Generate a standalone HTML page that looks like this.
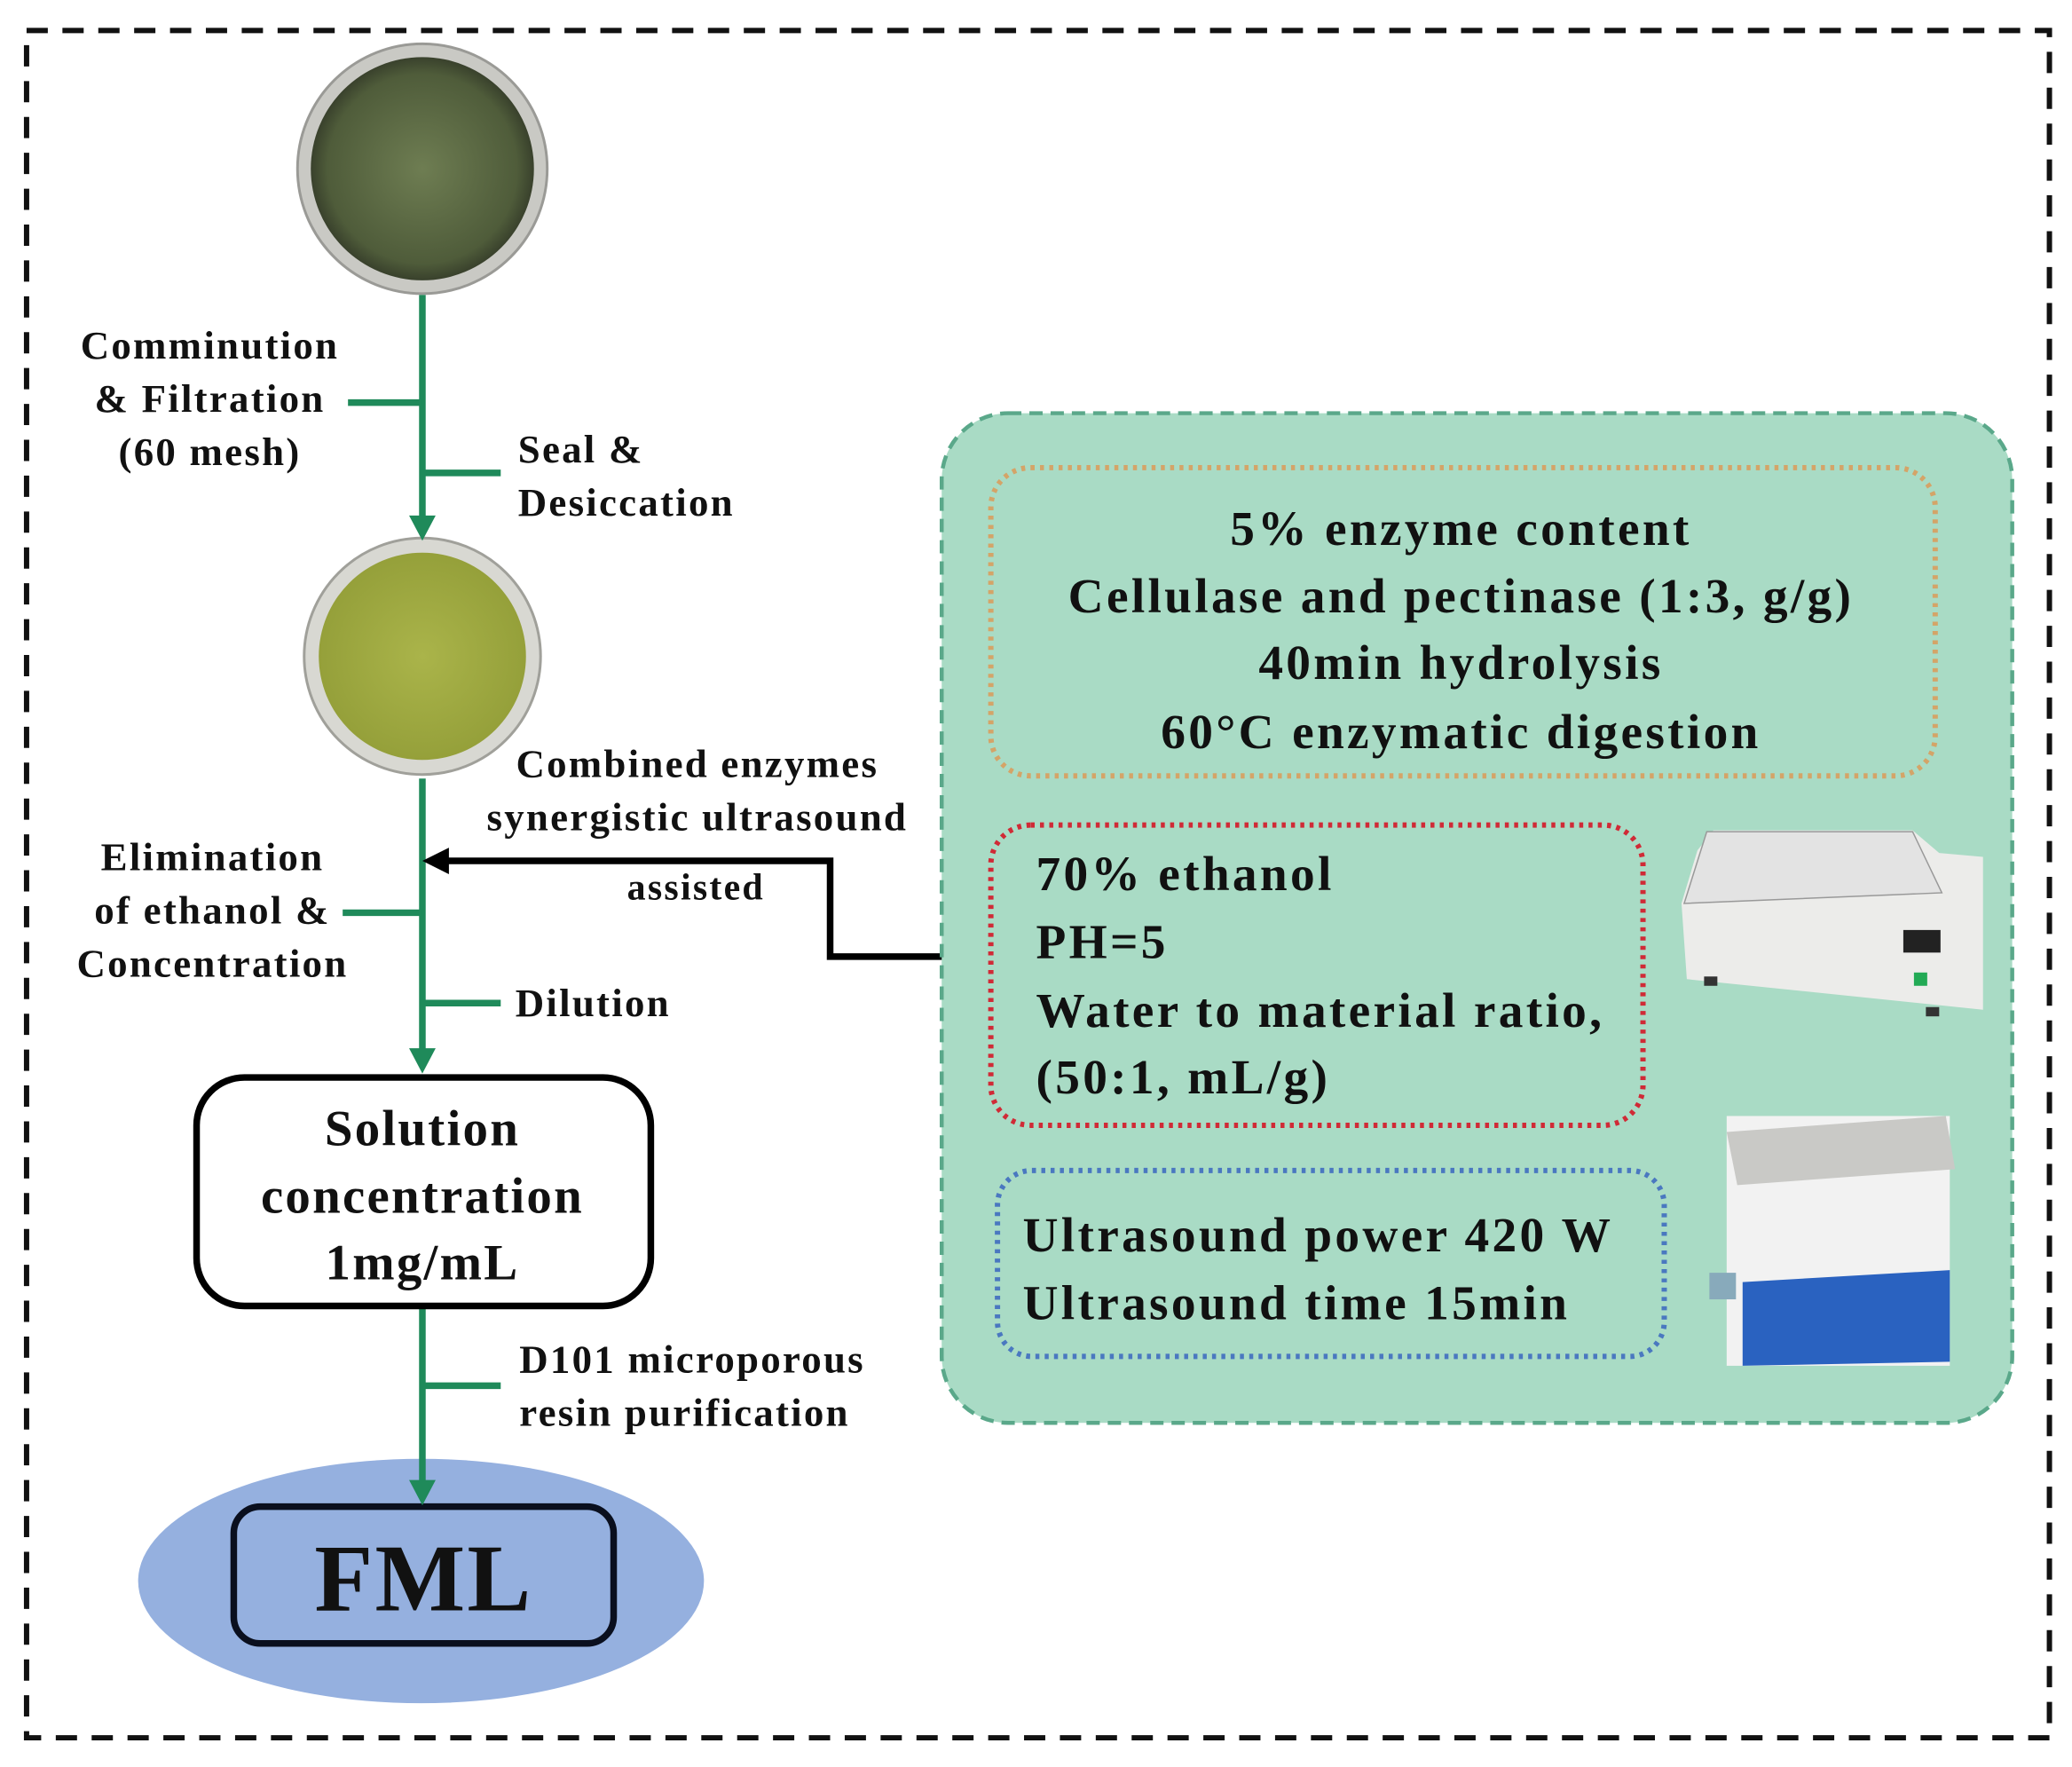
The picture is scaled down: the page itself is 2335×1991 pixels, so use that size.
<!DOCTYPE html>
<html><head><meta charset="utf-8"><style>
html,body{margin:0;padding:0;background:#fff}
svg{display:block}
text{font-family:"Liberation Serif",serif;font-weight:bold;fill:#111;letter-spacing:1.5px}
.p text{letter-spacing:2.2px}
</style></head><body>
<svg width="2335" height="1991" viewBox="0 0 1560 1330" preserveAspectRatio="none" xmlns="http://www.w3.org/2000/svg">
<defs>
<radialGradient id="leaf" cx="50%" cy="50%" r="50%"><stop offset="0" stop-color="#6e7d52"/><stop offset="0.85" stop-color="#4f5c3a"/><stop offset="1" stop-color="#39412c"/></radialGradient>
<radialGradient id="pow" cx="50%" cy="50%" r="50%"><stop offset="0" stop-color="#aab44a"/><stop offset="1" stop-color="#95a03a"/></radialGradient>
</defs>
<rect x="20" y="23" width="1523" height="1285" fill="none" stroke="#111" stroke-width="4" stroke-dasharray="16 11"/>

<circle cx="318" cy="127" r="94" fill="#c9c9c4" stroke="#9a9a96" stroke-width="2"/>
<circle cx="318" cy="127" r="84" fill="url(#leaf)"/>
<circle cx="318" cy="494" r="89" fill="#d8d8d2" stroke="#a0a09a" stroke-width="2"/>
<circle cx="318" cy="494" r="78" fill="url(#pow)"/>

<ellipse cx="317" cy="1190" rx="213" ry="92" fill="#95b0df"/>
<rect x="176" y="1134" width="286" height="103" rx="20" fill="none" stroke="#0a0f1e" stroke-width="5"/>
<text x="319" y="1212" font-size="72" text-anchor="middle">FML</text>

<g stroke="#1f8a5a" stroke-width="5" fill="none">
<line x1="318" y1="222" x2="318" y2="392"/>
<line x1="262" y1="303" x2="318" y2="303"/>
<line x1="318" y1="356" x2="377" y2="356"/>
<line x1="318" y1="586" x2="318" y2="792"/>
<line x1="258" y1="687" x2="318" y2="687"/>
<line x1="318" y1="755" x2="377" y2="755"/>
<line x1="318" y1="983" x2="318" y2="1117"/>
<line x1="318" y1="1043" x2="377" y2="1043"/>
</g>
<g fill="#1f8a5a">
<polygon points="308,388 328,388 318,407"/>
<polygon points="308,789 328,789 318,808"/>
<polygon points="308,1114 328,1114 318,1133"/>
</g>

<polyline points="710,720 625,720 625,648 334,648" fill="none" stroke="#000" stroke-width="5"/>
<polygon points="318,648 338,638 338,658" fill="#000"/>

<g font-size="30" text-anchor="middle">
<text x="158" y="270">Comminution</text>
<text x="158" y="310">&amp; Filtration</text>
<text x="158" y="350">(60 mesh)</text>
<text x="160" y="655">Elimination</text>
<text x="160" y="695">of ethanol &amp;</text>
<text x="160" y="735">Concentration</text>
<text x="525" y="585">Combined enzymes</text>
<text x="525" y="625">synergistic ultrasound</text>
<text x="524" y="677" font-size="28">assisted</text>
</g>
<g font-size="30">
<text x="390" y="348">Seal &amp;</text>
<text x="390" y="388">Desiccation</text>
<text x="388" y="765">Dilution</text>
<text x="391" y="1033">D101 microporous</text>
<text x="391" y="1073">resin purification</text>
</g>

<rect x="148" y="811" width="342" height="172" rx="36" fill="#fff" stroke="#000" stroke-width="5"/>
<g font-size="38" text-anchor="middle">
<text x="318" y="862">Solution</text>
<text x="318" y="913">concentration</text>
<text x="318" y="963">1mg/mL</text>
</g>

<rect x="709" y="311" width="806" height="760" rx="50" fill="#a9dbc5" stroke="#5aa88a" stroke-width="3" stroke-dasharray="10 6"/>
<rect x="746" y="352" width="711" height="232" rx="30" fill="none" stroke="#d4a468" stroke-width="4" stroke-dasharray="3 4"/>
<g class="p">
<g font-size="37" text-anchor="middle">
<text x="1100" y="410">5% enzyme content</text>
<text x="1100" y="461">Cellulase and pectinase (1:3, g/g)</text>
<text x="1100" y="511">40min hydrolysis</text>
<text x="1100" y="563">60°C enzymatic digestion</text>
</g>
<g font-size="37">
<text x="780" y="670">70% ethanol</text>
<text x="780" y="721">PH=5</text>
<text x="780" y="773">Water to material ratio,</text>
<text x="780" y="823">(50:1, mL/g)</text>
</g>
<g font-size="37">
<text x="770" y="942">Ultrasound power 420 W</text>
<text x="770" y="993">Ultrasound time 15min</text>
</g>
</g>
<rect x="746" y="621" width="491" height="226" rx="30" fill="none" stroke="#d02a36" stroke-width="4" stroke-dasharray="3 4"/>
<rect x="751" y="881" width="502" height="140" rx="26" fill="none" stroke="#4a78c0" stroke-width="4" stroke-dasharray="3 4"/>

<polygon points="1290,625 1440,625 1460,642 1493,645 1493,760 1270,737 1266,680 1278,640" fill="#ececea"/>
<polygon points="1285,626 1440,626 1462,672 1268,680" fill="#e3e3e3" stroke="#999" stroke-width="1"/>
<rect x="1433" y="700" width="28" height="17" fill="#222"/>
<rect x="1441" y="732" width="10" height="10" fill="#2a5"/>
<rect x="1283" y="735" width="10" height="7" fill="#333"/>
<rect x="1450" y="758" width="10" height="7" fill="#333"/>

<rect x="1300" y="840" width="168" height="188" fill="#f2f2f2"/>
<polygon points="1300,852 1465,840 1472,880 1308,892" fill="#c9c9c6"/>
<polygon points="1312,965 1468,956 1468,1025 1312,1028" fill="#2a62c0"/>
<rect x="1287" y="958" width="20" height="20" fill="#8ab"/>
</svg>
</body></html>
